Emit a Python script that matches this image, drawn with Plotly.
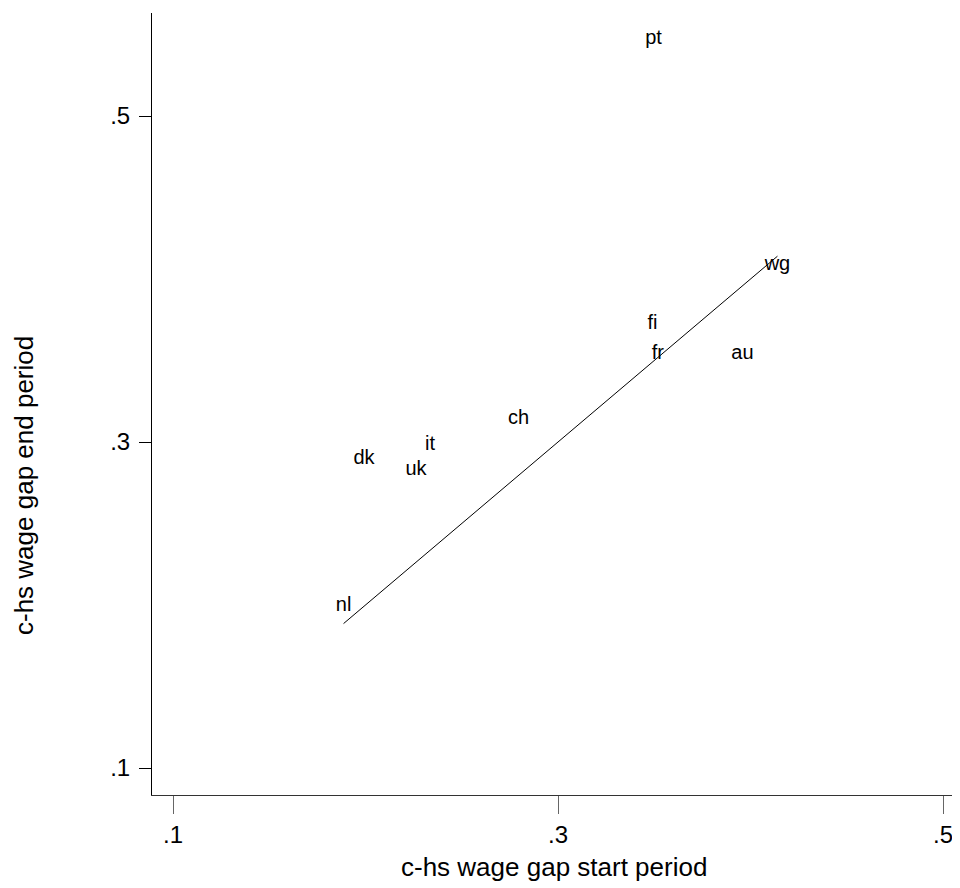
import plotly.graph_objects as go

countries = ["nl", "dk", "uk", "it", "ch", "fi", "fr", "pt", "au", "wg"]
gap_start = [0.1886, 0.1992, 0.2262, 0.2335, 0.2795, 0.3491, 0.3519, 0.3496, 0.3958, 0.4140]
gap_end = [0.1994, 0.2896, 0.2828, 0.2982, 0.3141, 0.3724, 0.3540, 0.5475, 0.3540, 0.4086]

x_ticks = [0.1, 0.3, 0.5]
x_tick_labels = [".1", ".3", ".5"]
y_ticks = [0.1, 0.3, 0.5]
y_tick_labels = [".1", ".3", ".5"]

FONT = "Liberation Sans, Arial, sans-serif"

line_x = sorted(gap_start)
line_y = list(line_x)  # 45-degree reference line y = x

fig = go.Figure()
fig.add_trace(go.Scatter(
    x=line_x, y=line_y, mode="lines",
    line=dict(color="black", width=1), hoverinfo="skip", showlegend=False,
))
fig.add_trace(go.Scatter(
    x=gap_start, y=gap_end, mode="text", text=countries,
    textposition="middle center",
    textfont=dict(family=FONT, size=20, color="black"),
    showlegend=False,
))

fig.update_layout(
    width=952, height=880,
    margin=dict(l=144, r=5, t=5, b=93),
    paper_bgcolor="white", plot_bgcolor="white",
    font=dict(family=FONT, color="black"),
    xaxis=dict(
        range=[0.08909, 0.50623], tickvals=x_ticks, ticktext=x_tick_labels,
        showgrid=False, zeroline=False, showline=True, linecolor="#333", linewidth=1,
        ticks="outside", ticklen=18, tickcolor="#666", tickwidth=1,
        tickfont=dict(family=FONT, size=24, color="black"),
        ticklabelstandoff=0,
    ),
    yaxis=dict(
        range=[0.08344, 0.5632], tickvals=y_ticks, ticktext=y_tick_labels,
        showgrid=False, zeroline=False, showline=True, linecolor="black", linewidth=1,
        ticks="outside", ticklen=12, tickcolor="black", tickwidth=1,
        tickfont=dict(family=FONT, size=24, color="black"),
        ticklabelstandoff=4,
    ),
    annotations=[
        dict(text="c-hs wage gap start period", xref="paper", yref="paper",
             x=0.5, y=(795 - 867) / 782, xanchor="center", yanchor="middle",
             showarrow=False, font=dict(family=FONT, size=26, color="black")),
        dict(text="c-hs wage gap end period", xref="paper", yref="paper",
             x=(24 - 152) / 803, y=(795 - 486) / 782, xanchor="center", yanchor="middle",
             textangle=-90, showarrow=False, font=dict(family=FONT, size=26, color="black")),
    ],
)

fig.write_html("out.html")
